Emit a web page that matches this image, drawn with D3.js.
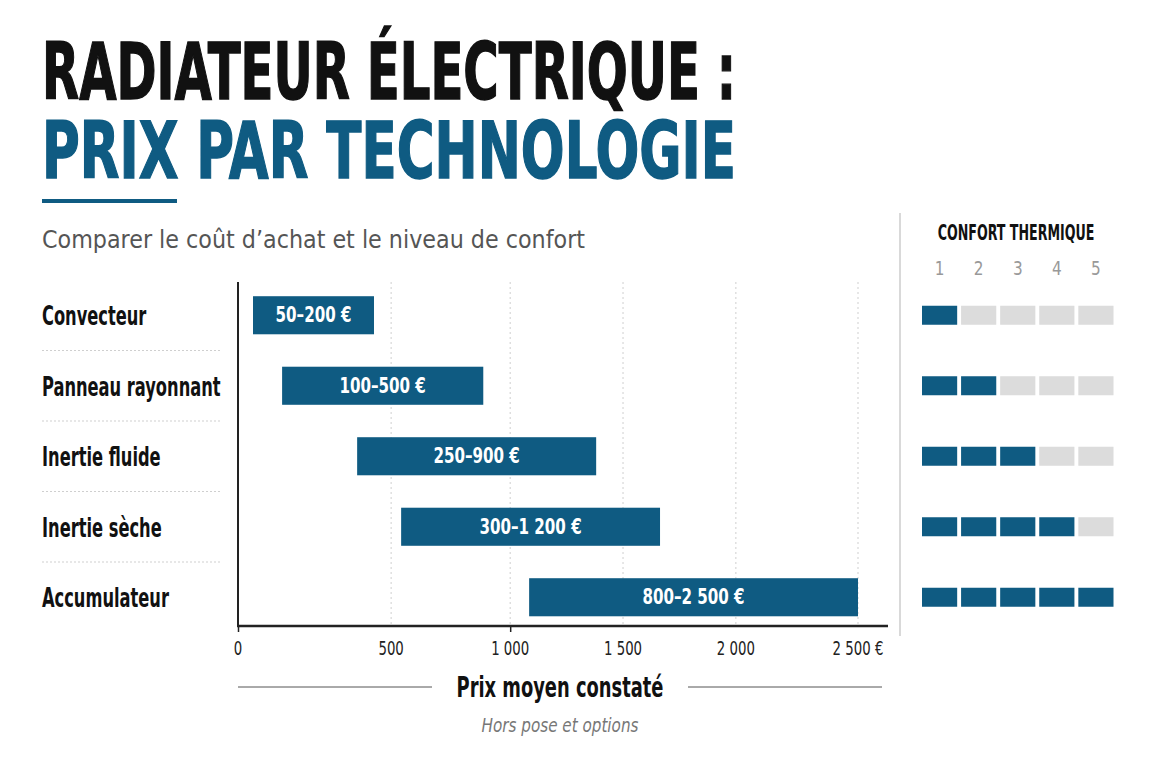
<!DOCTYPE html>
<html>
<head>
<meta charset="utf-8">
<script src="https://cdn.jsdelivr.net/npm/d3@7"></script>
<style>
  body { margin: 0; background: #fff; }
  svg { display: block; }
</style>
</head>
<body>
<svg id="chart" width="1152" height="768"></svg>
<script>
// données
const categories = ['Convecteur', 'Panneau rayonnant', 'Inertie fluide', 'Inertie sèche', 'Accumulateur'];
const priceLabels = ['50–200 €', '100–500 €', '250–900 €', '300–1 200 €', '800–2 500 €'];
const priceLow = [49, 144, 389, 542, 1084];
const priceHigh = [444, 887, 1381, 1664, 2500];
const comfort = [1, 2, 3, 4, 5];
const comfortLevels = [1, 2, 3, 4, 5];
const priceTicks = [0, 500, 1000, 1500, 2000, 2500];
const tickLabels = ['0', '500', '1 000', '1 500', '2 000', '2 500 €'];

const BLUE = '#0f5b82', DARK = '#111', NARROW = '"Liberation Sans Narrow", "DejaVu Sans Condensed", "Roboto", sans-serif';
const svg = d3.select('#chart');

// texte condensé : on écrase horizontalement
let cText = (parent, x, y, txt, opts) => {
    let {size = 20, weight = 700, fill = DARK, anchor = 'start', sx = 0.85, italic = false} = {...opts};
    let t = parent.append('text')
        .attr('transform', `translate(${x},${y}) scale(${sx},1)`)
        .attr('text-anchor', anchor)
        .attr('font-family', NARROW)
        .attr('font-size', size)
        .attr('font-weight', weight)
        .attr('fill', fill)
        .text(txt);
    if (italic) t.attr('font-style', 'italic');
    return t;
};

// titre
let title = (txt, y, fill) => {
    svg.append('text').attr('x', 42).attr('y', y)
        .attr('font-family', NARROW).attr('font-size', 78).attr('font-weight', 700)
        .attr('fill', fill).attr('stroke', fill).attr('stroke-width', 1.4)
        .attr('textLength', 694).attr('lengthAdjust', 'spacingAndGlyphs')
        .text(txt);
};
title('RADIATEUR ÉLECTRIQUE :', 99, DARK);
title('PRIX PAR TECHNOLOGIE', 178, BLUE);
svg.append('rect').attr('x', 42).attr('y', 199).attr('width', 135).attr('height', 4).attr('fill', BLUE);

svg.append('text').attr('x', 42).attr('y', 248)
    .attr('font-family', NARROW).attr('font-size', 25).attr('fill', '#555')
    .attr('textLength', 543).attr('lengthAdjust', 'spacingAndGlyphs')
    .text('Comparer le coût d’achat et le niveau de confort');

// échelles
const plotL = 238, plotR = 858, plotTop = 282, plotBottom = 626;
const W = plotR - plotL;
const x = d3.scaleLinear()
    .domain(priceTicks)
    .range([0, 0.247, 0.439, 0.621, 0.803, 1].map(f => plotL + f * W));
const y = d3.scaleBand().domain(categories).range([280, 632.5]).paddingInner(0.46).paddingOuter(0.23);

// grille
svg.append('g').selectAll('line').data(priceTicks.slice(1)).join('line')
    .attr('x1', d => x(d)).attr('x2', d => x(d))
    .attr('y1', plotTop).attr('y2', plotBottom)
    .attr('stroke', '#cfcfcf').attr('stroke-width', 1).attr('stroke-dasharray', '2,3');

// séparateurs des lignes
svg.append('g').selectAll('line').data(categories.slice(0, -1)).join('line')
    .attr('x1', 42).attr('x2', 220)
    .attr('y1', d => y(d) + y.bandwidth() + y.step() * y.paddingInner() / 2)
    .attr('y2', d => y(d) + y.bandwidth() + y.step() * y.paddingInner() / 2)
    .attr('stroke', '#cfcfcf').attr('stroke-dasharray', '2,2');

// barres
let bars = svg.append('g').selectAll('g').data(categories).join('g');
bars.append('rect')
    .attr('x', (d, i) => x(priceLow[i]))
    .attr('width', (d, i) => x(priceHigh[i]) - x(priceLow[i]))
    .attr('y', d => y(d)).attr('height', y.bandwidth())
    .attr('fill', BLUE);
bars.each(function (d, i) {
    let g = d3.select(this);
    cText(g, (x(priceLow[i]) + x(priceHigh[i])) / 2, y(d) + y.bandwidth() / 2 + 7, priceLabels[i],
        {size: 21, fill: '#fff', anchor: 'middle', sx: 0.8});
    cText(svg, 42, y(d) + y.bandwidth() / 2 + 10, d, {size: 27, sx: 0.67});
});

// axes
svg.append('line').attr('x1', plotL).attr('x2', plotL).attr('y1', plotTop).attr('y2', plotBottom)
    .attr('stroke', '#222').attr('stroke-width', 2);
let axis = svg.append('g').attr('transform', `translate(0,${plotBottom})`)
    .call(d3.axisBottom(x).tickValues(priceTicks).tickSize(0).tickPadding(0).tickFormat(''));
axis.select('.domain').remove();
axis.append('line').attr('x1', plotL - 1).attr('x2', 888).attr('stroke', '#222').attr('stroke-width', 2.5);
axis.selectAll('.tick line').filter(d => d === 0 || d === 1000)
    .attr('y2', 6).attr('stroke', '#222').attr('stroke-width', 1.5);
priceTicks.forEach((t, i) => {
    cText(svg, x(t), 655, tickLabels[i], {size: 20, weight: 400, fill: '#222', anchor: 'middle', sx: 0.74});
});

// titre d'axe
svg.append('line').attr('x1', 238).attr('x2', 432).attr('y1', 687).attr('y2', 687).attr('stroke', '#555').attr('stroke-width', 1);
svg.append('line').attr('x1', 688).attr('x2', 882).attr('y1', 687).attr('y2', 687).attr('stroke', '#555').attr('stroke-width', 1);
cText(svg, 560, 697, 'Prix moyen constaté', {size: 28, anchor: 'middle', sx: 0.71});
cText(svg, 560, 732, 'Hors pose et options', {size: 19, weight: 400, fill: '#777', anchor: 'middle', sx: 0.89, italic: true});

// panneau confort thermique
svg.append('line').attr('x1', 900).attr('x2', 900).attr('y1', 213).attr('y2', 636).attr('stroke', '#ccc').attr('stroke-width', 1.5);
cText(svg, 1016, 240, 'CONFORT THERMIQUE', {size: 21, anchor: 'middle', sx: 0.67});
const xc = d3.scaleBand().domain(comfortLevels).range([922, 1113.5]).paddingInner(0.1);
comfortLevels.forEach(l => {
    cText(svg, xc(l) + xc.bandwidth() / 2, 275, l, {size: 20, weight: 400, fill: '#999', anchor: 'middle', sx: 0.85});
});
categories.forEach((c, i) => {
    svg.append('g').selectAll('rect').data(comfortLevels).join('rect')
        .attr('x', l => xc(l)).attr('width', xc.bandwidth())
        .attr('y', y(c) + y.bandwidth() / 2 - 9.5).attr('height', 19)
        .attr('fill', l => l <= comfort[i] ? BLUE : '#dcdcdc');
});
</script>
</body>
</html>
